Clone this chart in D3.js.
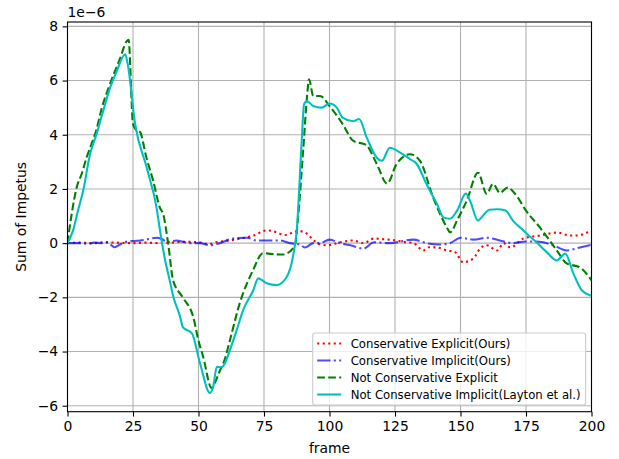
<!DOCTYPE html>
<html>
<head>
<meta charset="utf-8">
<script src="https://cdn.jsdelivr.net/npm/d3@7"></script>
<style>
  body { margin: 0; background: #fff; }
  text { font-family: "DejaVu Sans", sans-serif; fill: #000; }
</style>
</head>
<body>
<div id="chart-area"></div>
<script>
// data, values in units of 1e-6, [frame, value]
const consExplicit = [[0,0],[5,0.02],[10,0.0],[13.6,0.03],[18,0.02],[25,0],[30,0.02],[35,0],[40,0.02],[45,0.05],[50,0.03],[54,-0.03],[57,0.04],[62,0.1],[66,0.17],[71,0.28],[76,0.47],[78,0.45],[81,0.35],[83,0.3],[86,0.39],[88,0.45],[91.4,0.35],[94,0.1],[96,-0.03],[99,-0.08],[104,0.03],[109,0.1],[113,0],[117,0.17],[120,0.15],[123,0.13],[129.5,0.03],[132,0],[135.8,-0.27],[138,-0.15],[141,-0.16],[144.8,-0.27],[148,-0.34],[151,-0.71],[153.6,-0.64],[155,-0.56],[157.5,-0.2],[160,-0.08],[164,-0.27],[166.5,0],[169,-0.16],[174,0.17],[180.3,0.28],[186.8,0.39],[191.8,0.28],[194.5,0.28],[198.3,0.39],[200,0.45]];

const consImplicit = [[0,0],[5,0.0],[8,-0.03],[10,0.02],[13,0],[15,0.03],[18,-0.15],[20,-0.05],[22,0.04],[25,0.08],[27.7,0.1],[31,0.15],[34,0.2],[36,0.15],[38,0.04],[41.7,0.1],[44,0.05],[46.8,0],[50.6,0],[54.4,-0.08],[58.2,0],[63.2,0.17],[68.5,0.2],[72,0.1],[76,0.1],[81,0.1],[85,0],[88.7,-0.05],[90.6,-0.16],[93.8,0],[96.4,0],[100,0.13],[104,0],[108,-0.08],[113,-0.2],[117,0.03],[123,0],[132,0.13],[137,0],[142,-0.05],[146,0],[150,0.2],[155,0.13],[160,0.2],[165,0.1],[170,0],[175,0.06],[180,0.05],[185.5,-0.08],[190.5,-0.27],[195.6,-0.16],[200,-0.06]];

const notConsExplicit = [[0,0],[1.6,1.08],[3.5,2.05],[5.4,2.55],[7.3,3.16],[9.2,3.66],[11.1,4.2],[13,4.95],[16.2,5.87],[20,6.8],[22.6,7.45],[23.3,7.5],[25,4.4],[26,4.2],[27.7,4.1],[30,3.2],[32.7,2.3],[35.3,1.3],[36.5,1.08],[38.4,0],[40.3,-1.37],[44,-2.0],[48,-2.73],[50,-3.6],[51.8,-4.2],[55,-5.35],[56,-5.2],[58.2,-4.7],[60,-4.3],[62,-3.58],[65.8,-2.2],[70.8,-1.0],[74.6,-0.37],[78,-0.4],[82,-0.42],[85,-0.3],[87,0.0],[88,0.95],[90,3.5],[91.5,5.5],[92.2,6.05],[93.8,5.43],[96.4,5.43],[100,5.06],[105,4.4],[109,3.78],[114,3.62],[118,2.93],[122,2.2],[125.6,2.92],[130.7,3.28],[134.5,3.04],[139.5,1.7],[144.8,0.58],[146,0.4],[149,0.9],[152.4,1.57],[156.7,2.6],[160,1.82],[162.4,2.19],[165,1.86],[168,2.05],[171,1.8],[175,1.2],[180.3,0.58],[184,0.1],[187,-0.3],[190.5,-0.75],[195.5,-0.89],[200,-1.37]];

const notConsImplicit = [[0,0],[2.1,0.46],[4,1.2],[6,1.94],[8.6,3.28],[11,4.0],[13.6,4.87],[16.2,5.72],[18.8,6.35],[22,6.97],[23,6.6],[25.8,4.4],[30.2,2.8],[34,1.3],[35.3,0.47],[37,-0.5],[39,-1.37],[40.4,-1.98],[43,-2.72],[44,-3.1],[47.5,-3.33],[50.6,-4.44],[54.4,-5.53],[55.6,-5.3],[57,-4.56],[58.8,-4.58],[60,-4.45],[62,-3.94],[64.6,-3.2],[67,-2.48],[70.9,-1.74],[72.8,-1.3],[74,-1.35],[76,-1.48],[79.8,-1.55],[83.6,-1.26],[86,-0.52],[87.5,0.47],[89.4,3.78],[90.3,5.13],[91.4,5.24],[93.8,5.06],[97,5.0],[100,5.15],[102.8,5.0],[105,4.63],[109,4.5],[111.3,4.58],[114.2,3.9],[118,3.16],[120,3.04],[123,3.52],[127,3.34],[130.7,3.1],[133.3,2.92],[137,2.18],[141,1.45],[143.5,0.95],[146,0.9],[148.7,1.2],[152,1.83],[153.6,1.57],[156.7,0.83],[158,0.95],[161,1.23],[164,1.25],[167.2,1.2],[170,0.83],[174,0.47],[175.3,0.35],[179,0.03],[183,-0.34],[186.8,-0.64],[190,-0.38],[193,-1.1],[196.3,-1.74],[199.4,-1.92],[200,-1.93]];

const seriesNames = ["Conservative Explicit(Ours)", "Conservative Implicit(Ours)", "Not Conservative Explicit", "Not Conservative Implicit(Layton et al.)"];
const xTicks = [0, 25, 50, 75, 100, 125, 150, 175, 200];
const yTicks = [-6, -4, -2, 0, 2, 4, 6, 8];

const W = 619, H = 459;
const plot = { left: 67.5, right: 591.5, top: 22, bottom: 411.7 };

const svg = d3.select("#chart-area")
    .append("svg")
    .attr("width", W)
    .attr("height", H);

const x = d3.scaleLinear().domain([0, 200]).range([plot.left, plot.right]);
const y = d3.scaleLinear().domain([-6.22, 8.16]).range([plot.bottom, plot.top]);

// GRID
svg.append("g")
    .selectAll("line.vx")
    .data(xTicks)
    .enter()
    .append("line")
    .attr("x1", d => x(d)).attr("x2", d => x(d))
    .attr("y1", plot.top).attr("y2", plot.bottom)
    .attr("stroke", "#b0b0b0").attr("stroke-width", 1.1);
svg.append("g")
    .selectAll("line.hy")
    .data(yTicks)
    .enter()
    .append("line")
    .attr("x1", plot.left).attr("x2", plot.right)
    .attr("y1", d => y(d)).attr("y2", d => y(d))
    .attr("stroke", "#b0b0b0").attr("stroke-width", 1.1);

// LINES
const line = d3.line().curve(d3.curveMonotoneX).x(d => x(d[0])).y(d => y(d[1]));
const styles = [
    { data: consExplicit, color: "#ff0000", dash: "2.1,3.4", opacity: 1 },
    { data: consImplicit, color: "#0000ff", dash: "13.3,3.3,2.1,3.3", opacity: 0.7 },
    { data: notConsExplicit, color: "#008000", dash: "7.7,3.3", opacity: 1 },
    { data: notConsImplicit, color: "#00bfbf", dash: null, opacity: 1 }
];

svg.append("clipPath").attr("id", "clip")
    .append("rect")
    .attr("x", plot.left).attr("y", plot.top)
    .attr("width", plot.right - plot.left).attr("height", plot.bottom - plot.top);

styles.forEach(function (s) {
    svg.append("path")
        .datum(s.data)
        .attr("d", line)
        .attr("fill", "none")
        .attr("stroke", s.color)
        .attr("stroke-opacity", s.opacity)
        .attr("stroke-width", 2.1)
        .attr("stroke-dasharray", s.dash)
        .attr("clip-path", "url(#clip)");
});

// AXES
const xAxisCall = d3.axisBottom(x).tickValues(xTicks).tickSize(4.9).tickPadding(4.5).tickFormat(d3.format("d"));
const yAxisCall = d3.axisLeft(y).tickValues(yTicks).tickSize(4.9).tickPadding(4.5)
    .tickFormat(d => d < 0 ? "\u2212" + Math.abs(d) : d);

const gx = svg.append("g")
    .attr("transform", "translate(0," + plot.bottom + ")")
    .call(xAxisCall);
const gy = svg.append("g")
    .attr("transform", "translate(" + plot.left + ",0)")
    .call(yAxisCall);
[gx, gy].forEach(function (g) {
    g.select(".domain").remove();
    g.selectAll(".tick line").attr("stroke", "#000").attr("stroke-width", 1.1);
    g.selectAll(".tick text")
        .attr("font-family", "DejaVu Sans")
        .attr("font-size", "13.9px")
        .attr("fill", "#000");
});

// SPINES
svg.append("rect")
    .attr("x", plot.left).attr("y", plot.top)
    .attr("width", plot.right - plot.left).attr("height", plot.bottom - plot.top)
    .attr("fill", "none").attr("stroke", "#000").attr("stroke-width", 1.1);

// LABELS
svg.append("text")
    .attr("x", (plot.left + plot.right) / 2)
    .attr("y", 453)
    .attr("font-size", "13.9px")
    .attr("text-anchor", "middle")
    .text("frame");

svg.append("text")
    .attr("transform", "translate(26," + ((plot.top + plot.bottom) / 2) + ") rotate(-90)")
    .attr("font-size", "13.9px")
    .attr("text-anchor", "middle")
    .text("Sum of Impetus");

svg.append("text")
    .attr("x", plot.left)
    .attr("y", 17.3)
    .attr("font-size", "13.9px")
    .text("1e\u22126");

// LEGEND
const lg = svg.append("g").attr("transform", "translate(312.7,333)");
lg.append("rect")
    .attr("width", 273).attr("height", 72)
    .attr("rx", 2.5)
    .attr("fill", "#fff").attr("fill-opacity", 0.8)
    .attr("stroke", "#cccccc").attr("stroke-width", 1.1);

const rows = lg.selectAll("g.row")
    .data(styles)
    .enter()
    .append("g")
    .attr("transform", (d, i) => "translate(0," + (10.5 + i * 17) + ")");
rows.append("line")
    .attr("x1", 4.5).attr("x2", 28.5)
    .attr("stroke", d => d.color)
    .attr("stroke-opacity", d => d.opacity)
    .attr("stroke-width", 2.1)
    .attr("stroke-dasharray", d => d.dash);
rows.append("text")
    .attr("x", 38)
    .attr("y", 4.2)
    .attr("font-size", "11.7px")
    .text((d, i) => seriesNames[i]);
</script>
</body>
</html>
